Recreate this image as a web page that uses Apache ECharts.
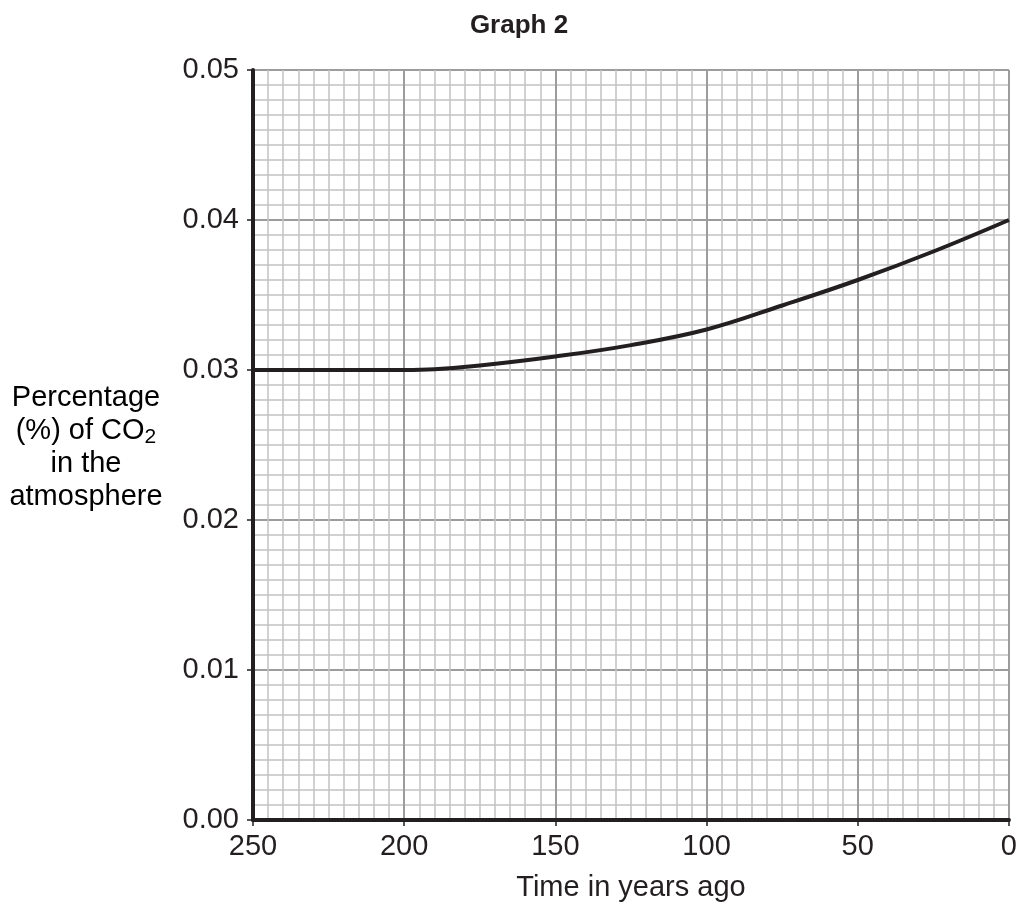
<!DOCTYPE html>
<html>
<head>
<meta charset="utf-8">
<script src="https://cdn.jsdelivr.net/npm/echarts@6/dist/echarts.min.js"></script>
<style>html,body{margin:0;padding:0;background:#fff;overflow:hidden;}#c{width:1020px;height:907px;}</style>
</head>
<body>
<div id="c"></div>
<script>
const yearsAgo = [0, 25, 50, 75, 100, 125, 150, 175, 190, 200, 225, 250];
const co2Percent = [0.0400, 0.0379, 0.0360, 0.0343, 0.0327, 0.03166, 0.0309, 0.0303, 0.03005, 0.0300, 0.0300, 0.0300];
const xTicks = [250, 200, 150, 100, 50, 0];
const yTicks = [0.00, 0.01, 0.02, 0.03, 0.04, 0.05];

const FONT = '"Liberation Sans", Arial, sans-serif';
const INK = '#231f20';
const FS = 29;
const chart = echarts.init(document.getElementById('c'), null, {renderer: 'canvas', width: 1020, height: 907});
chart.setOption({
  animation: false,
  backgroundColor: '#fff',
  grid: {left: 253, width: 756, top: 70, height: 756, containLabel: false},
  graphic: [
    {type: 'text', x: 519, y: 13, style: {text: 'Graph 2', font: 'bold 26px ' + FONT, fill: INK, textAlign: 'center', textVerticalAlign: 'top'}},
    {type: 'text', x: 86, y: 381, style: {
      text: '{a|Percentage}\n{a|(%) of CO}{s|2}\n{a|in the}\n{a|atmosphere}',
      textAlign: 'center', textVerticalAlign: 'top',
      rich: {
        a: {fontSize: FS, fontFamily: FONT, color: INK, lineHeight: 33},
        s: {fontSize: 21, fontFamily: FONT, color: INK, lineHeight: 33, padding: [14, 0, 0, 0]}
      }
    }}
  ],
  xAxis: {
    type: 'value', min: 0, max: 250, interval: 50, inverse: true,
    name: 'Time in years ago', nameLocation: 'middle', nameGap: 53,
    nameTextStyle: {fontSize: FS, fontFamily: FONT, color: INK},
    axisLine: {show: true, onZero: false, lineStyle: {color: INK, width: 4}},
    axisTick: {show: true, length: 6, lineStyle: {color: INK, width: 1.5}},
    axisLabel: {fontSize: FS, fontFamily: FONT, color: INK, margin: 12,
      customValues: xTicks, formatter: v => String(v)},
    splitLine: {show: true, lineStyle: {color: '#9c9c9c', width: 2}},
    minorTick: {show: false, splitNumber: 10},
    minorSplitLine: {show: true, lineStyle: {color: '#c2c2c2', width: 1.5}}
  },
  yAxis: {
    type: 'value', min: 0, max: 0.05, interval: 0.01,
    axisLine: {show: true, onZero: false, lineStyle: {color: INK, width: 4}},
    axisTick: {show: true, length: 6, lineStyle: {color: INK, width: 1.5}},
    axisLabel: {fontSize: FS, fontFamily: FONT, color: INK, margin: 14,
      customValues: yTicks, formatter: v => Number(v).toFixed(2)},
    splitLine: {show: true, lineStyle: {color: '#9c9c9c', width: 2}},
    minorTick: {show: false, splitNumber: 10},
    minorSplitLine: {show: true, lineStyle: {color: '#c2c2c2', width: 1.5}}
  },
  series: [{
    type: 'line',
    data: yearsAgo.map((y, i) => [y, co2Percent[i]]),
    smooth: 0.4,
    showSymbol: false, symbol: 'none',
    lineStyle: {color: INK, width: 4},
    z: 10
  }]
});
</script>
</body>
</html>
